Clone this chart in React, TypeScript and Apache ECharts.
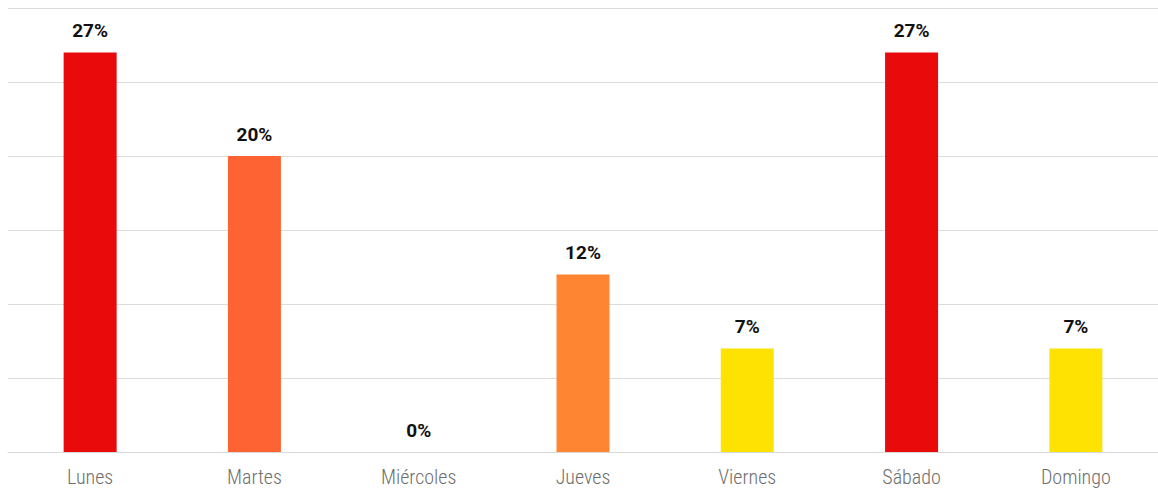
import React, { useEffect, useRef } from "react";
import * as echarts from "echarts";

const categories = ["Lunes", "Martes", "Miércoles", "Jueves", "Viernes", "Sábado", "Domingo"];
const values = [27, 20, 0, 12, 7, 27, 7];
const barColors = ["#E90A0B", "#FE6433", "#FE6433", "#FE8632", "#FEE202", "#E90A0B", "#FEE202"];

const AXIS_FONT = "'Roboto Condensed', 'Liberation Sans Narrow', 'Roboto', sans-serif";
const LABEL_FONT = "Roboto, 'Liberation Sans', sans-serif";

export default function App() {
  const ref = useRef<HTMLDivElement>(null);
  useEffect(() => {
    const chart = echarts.init(ref.current!, null, { renderer: "svg" });
    chart.setOption({
      animation: false,
      grid: { left: 8, right: 0, top: 8, bottom: 42, containLabel: false },
      xAxis: {
        type: "category",
        data: categories,
        axisLine: { lineStyle: { color: "#d9d9d9" } },
        axisTick: { show: false },
        axisLabel: { color: "#6e6e6e", fontSize: 20, fontWeight: 300, fontFamily: AXIS_FONT, margin: 15 },
      },
      yAxis: {
        type: "value",
        min: 0,
        max: 30,
        interval: 5,
        axisLabel: { show: false },
        axisLine: { show: false },
        axisTick: { show: false },
        splitLine: { lineStyle: { color: "#dcdcdc", width: 1 } },
      },
      series: [
        {
          type: "bar",
          data: values.map((v, i) => ({ value: v, itemStyle: { color: barColors[i] } })),
          barWidth: 53,
          label: {
            show: true,
            position: "top",
            distance: 12,
            formatter: "{c}%",
            color: "#111111",
            fontWeight: "bold",
            fontSize: 19,
            fontFamily: LABEL_FONT,
          },
        },
      ],
    });
    return () => chart.dispose();
  }, []);
  return <div ref={ref} style={{ width: 1158, height: 494, position: "absolute", left: 0, top: 0 }} />;
}
